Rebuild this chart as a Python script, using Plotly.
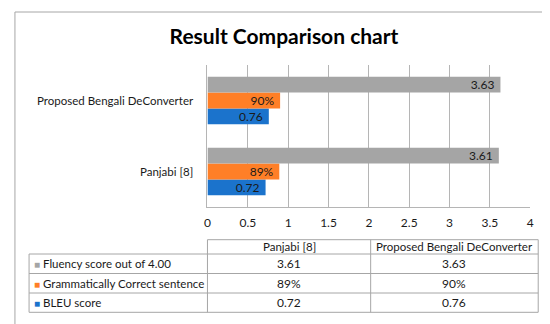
import plotly.graph_objects as go

categories = ["Panjabi [8]", "Proposed Bengali DeConverter"]
series_names = ["BLEU score", "Grammatically Correct sentence", "Fluency score out of 4.00"]
bleu = [0.72, 0.76]
grammar = [0.89, 0.90]
grammar_labels = ["89%", "90%"]
fluency = [3.61, 3.63]
x_ticks = [0, 0.5, 1, 1.5, 2, 2.5, 3, 3.5, 4]
colors = ["#1B73CC", "#FF7F27", "#A5A5A5"]

W, H = 550, 324
FONT = "Lato"
TXT = "#1a1a1a"
LINE = "#A6A6A6"
GRID = "#B5B5B5"

fig = go.Figure()
vals = [bleu, grammar, fluency]
texts = [[f"{v:.2f}" for v in bleu], grammar_labels, [f"{v:.2f}" for v in fluency]]
for name, v, t, c in zip(series_names, vals, texts, colors):
    fig.add_trace(go.Bar(
        y=categories, x=v, orientation="h", name=name, marker_color=c,
        marker_line_width=0, text=[s + "\u00a0" for s in t],
        textposition="inside", insidetextanchor="end",
        textfont=dict(color=TXT, size=12, family=FONT), showlegend=False,
        cliponaxis=False, textangle=0, constraintext="none",
    ))

# ---- data table drawn with shapes + annotations (pixel layout -> paper coords) ----
col_x = [18.3, 199, 364.3, 534]
row_y = [231.7, 246, 265.5, 285, 304.3]
px = lambda x: x / W
py = lambda y: 1 - y / H

shapes = []
def hline(x0, x1, y):
    shapes.append(dict(type="line", xref="paper", yref="paper", x0=px(x0), x1=px(x1),
                       y0=py(y), y1=py(y), line=dict(color=LINE, width=1)))
def vline(x, y0, y1):
    shapes.append(dict(type="line", xref="paper", yref="paper", x0=px(x), x1=px(x),
                       y0=py(y0), y1=py(y1), line=dict(color=LINE, width=1)))

hline(col_x[1], col_x[3], row_y[0])
for y in row_y[1:]:
    hline(col_x[0], col_x[3], y)
vline(col_x[0], row_y[1], row_y[4])
for x in col_x[1:]:
    vline(x, row_y[0], row_y[4])

# outer chart border
shapes.append(dict(type="rect", xref="paper", yref="paper",
                   x0=px(4), x1=px(544), y0=py(318), y1=py(4),
                   line=dict(color=LINE, width=1), fillcolor="rgba(0,0,0,0)", layer="below"))

annotations = []
def ann(text, x, y, xanchor="center", size=12):
    annotations.append(dict(text=text, xref="paper", yref="paper", x=px(x), y=py(y),
                            xanchor=xanchor, yanchor="middle", showarrow=False,
                            font=dict(family=FONT, size=size, color=TXT)))

# header
for j, cat in enumerate(categories):
    ann(cat, (col_x[j + 1] + col_x[j + 2]) / 2, (row_y[0] + row_y[1]) / 2, size=11.5)

rows = [
    (series_names[2], colors[2], [f"{v:.2f}" for v in fluency]),
    (series_names[1], colors[1], grammar_labels),
    (series_names[0], colors[0], [f"{v:.2f}" for v in bleu]),
]
for i, (name, c, cells) in enumerate(rows):
    yc = (row_y[i + 1] + row_y[i + 2]) / 2
    ann(f'<span style="color:{c};font-size:10px">■</span> {name}', col_x[0] + 3, yc, "left", 11.5)
    for j, cell in enumerate(cells):
        ann(cell, (col_x[j + 1] + col_x[j + 2]) / 2, yc)

fig.update_layout(
    width=W, height=H,
    margin=dict(l=0, r=0, t=0, b=0),
    paper_bgcolor="white", plot_bgcolor="white",
    barmode="group", bargap=0.33, bargroupgap=0,
    title=dict(text="<b>Result Comparison chart</b>", x=276 / W, xanchor="center",
               y=1 - 29 / H, yanchor="middle",
               font=dict(family=FONT, size=21, color="black")),
    font=dict(family=FONT, size=12, color=TXT),
    xaxis=dict(domain=[199 / W, 526 / W], range=[0, 4], tickvals=x_ticks,
               ticktext=[f"{t:g}" for t in x_ticks],
               showgrid=True, gridcolor=GRID, gridwidth=1,
               showline=True, linecolor=GRID, linewidth=1, mirror=False,
               zeroline=False, ticks="", fixedrange=True, ticklabelstandoff=5,
               tickfont=dict(family=FONT, size=12, color=TXT)),
    yaxis=dict(domain=[1 - 199 / H, 1 - 57 / H], showgrid=False,
               showline=True, linecolor=GRID, linewidth=1,
               ticks="", ticklabelstandoff=11, fixedrange=True,
               tickfont=dict(family=FONT, size=11.5, color=TXT)),
    shapes=shapes,
    annotations=annotations,
)

fig.write_html("out.html")
